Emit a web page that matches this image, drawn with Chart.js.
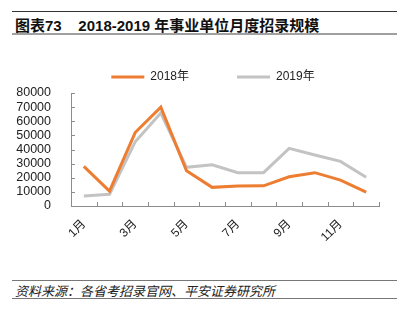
<!DOCTYPE html>
<html lang="zh">
<head>
    <meta charset="UTF-8">
    <title>2018-2019 年事业单位月度招录规模</title>
    <script src="https://cdn.jsdelivr.net/npm/chart.js"></script>
    <style>
        body {
            margin: 0;
            width: 405px;
            height: 325px;
            position: relative;
            background: #fff;
            font-family: "Liberation Sans", "Noto Sans CJK SC", sans-serif;
            overflow: hidden;
        }
        .rule-top {
            position: absolute; left: 12px; width: 385px; top: 11px;
            border-top: 1px solid #333;
        }
        .rule-title {
            position: absolute; left: 12px; width: 385px; top: 33px;
            border-top: 2px solid #a0a0a0;
        }
        #title {
            position: absolute; left: 15px; top: 14px;
            font-size: 15px; font-weight: bold; color: #111;
            font-family: "Liberation Sans", "Noto Sans CJK SC", sans-serif;
            white-space: pre;
        }
        #chart-box {
            position: absolute; left: 0; top: 9px; width: 405px; height: 271px;
        }
        .rule-foot1 {
            position: absolute; left: 12px; width: 385px; top: 280px;
            border-top: 1px solid #777;
        }
        .rule-foot2 {
            position: absolute; left: 12px; width: 385px; top: 298px;
            border-top: 1px solid #777;
        }
        #source {
            position: absolute; left: 15px; top: 281px;
            font-size: 13px; font-style: italic; color: #222;
            font-family: "Noto Sans CJK SC", sans-serif;
        }
    </style>
</head>
<body>
    <div class="rule-top"></div>
    <div id="title">图表73    2018-2019 年事业单位月度招录规模</div>
    <div class="rule-title"></div>
    <div id="chart-box"><canvas id="hireChart"></canvas></div>
    <div class="rule-foot1"></div>
    <div id="source">资料来源：各省考招录官网、平安证券研究所</div>
    <div class="rule-foot2"></div>

    <script>
        const months = ['1月', '2月', '3月', '4月', '5月', '6月', '7月', '8月', '9月', '10月', '11月', '12月'];
        const hires2018 = [28000, 10500, 52000, 70000, 25000, 13200, 14200, 14300, 20700, 23600, 18300, 9800];
        const hires2019 = [7000, 8300, 45500, 65800, 27400, 29200, 23600, 23600, 40800, 36100, 31600, 20300];
        const yTicks = [0, 10000, 20000, 30000, 40000, 50000, 60000, 70000, 80000];

        const axisColor = '#8c8c8c';

        // small tick marks pointing into the plot, like the original
        const innerTicks = {
            id: 'innerTicks',
            afterDraw(chart) {
                const ctx = chart.ctx;
                const x = chart.scales.x;
                const y = chart.scales.y;
                const step = x.width / months.length;
                ctx.save();
                ctx.strokeStyle = axisColor;
                ctx.lineWidth = 1;
                ctx.beginPath();
                for (let i = 0; i <= months.length; i++) {
                    const px = Math.round(x.left + i * step) + 0.5;
                    ctx.moveTo(px, y.bottom);
                    ctx.lineTo(px, y.bottom - 4);
                }
                yTicks.forEach(v => {
                    const py = Math.round(y.getPixelForValue(v)) + 0.5;
                    ctx.moveTo(x.left, py);
                    ctx.lineTo(x.left + 4, py);
                });
                ctx.stroke();
                ctx.restore();
            }
        };

        new Chart(document.getElementById('hireChart'), {
            type: 'line',
            data: {
                labels: months,
                datasets: [{
                    label: '2018年',
                    data: hires2018,
                    borderColor: '#ED7D31',
                    backgroundColor: '#ED7D31',
                    borderWidth: 3,
                    pointRadius: 0,
                    tension: 0
                }, {
                    label: '2019年',
                    data: hires2019,
                    borderColor: '#C3C3C3',
                    backgroundColor: '#C3C3C3',
                    borderWidth: 3,
                    pointRadius: 0,
                    tension: 0
                }]
            },
            options: {
                responsive: true,
                maintainAspectRatio: false,
                animation: false,
                // left padding pushes the legend centre right; y axis width makes up for it
                layout: { padding: { left: 47, right: 26, top: 0, bottom: 0 } },
                plugins: {
                    tooltip: { enabled: false },
                    legend: {
                        position: 'top',
                        labels: {
                            color: '#222',
                            font: { family: '"Liberation Sans", "Noto Sans CJK SC"', size: 12 },
                            boxWidth: 33,
                            boxHeight: 3,
                            padding: 48,
                            generateLabels(chart) {
                                return chart.data.datasets.map((ds, i) => ({
                                    text: ds.label,
                                    fillStyle: ds.borderColor,
                                    strokeStyle: ds.borderColor,
                                    lineWidth: 0,
                                    fontColor: '#222',
                                    hidden: false,
                                    datasetIndex: i
                                }));
                            }
                        }
                    }
                },
                scales: {
                    x: {
                        offset: true,
                        grid: { display: false },
                        border: { color: axisColor },
                        ticks: {
                            autoSkip: false,
                            maxRotation: 45,
                            minRotation: 45,
                            color: '#222',
                            font: { family: '"Liberation Sans", "Noto Sans CJK SC"', size: 12 },
                            callback: (v, i) => (i % 2 === 0 ? months[i] : '')
                        },
                        afterFit(scale) { scale.height = 74; }
                    },
                    y: {
                        min: 0,
                        max: 80000,
                        grid: { display: false },
                        border: { color: axisColor },
                        afterBuildTicks(scale) {
                            scale.ticks = yTicks.map(v => ({ value: v }));
                        },
                        ticks: {
                            autoSkip: false,
                            color: '#222',
                            padding: 12,
                            font: { family: '"Liberation Sans"', size: 12.5 },
                            callback: v => String(v)
                        },
                        afterFit(scale) {
                            scale.width = 24;
                            // keep the plot top below the legend gap
                            scale.paddingTop = 84;
                            // labels run past the narrow axis box, so don't clip them
                            scale._computeLabelArea = () => undefined;
                        }
                    }
                }
            },
            plugins: [innerTicks]
        });
    </script>
</body>
</html>
